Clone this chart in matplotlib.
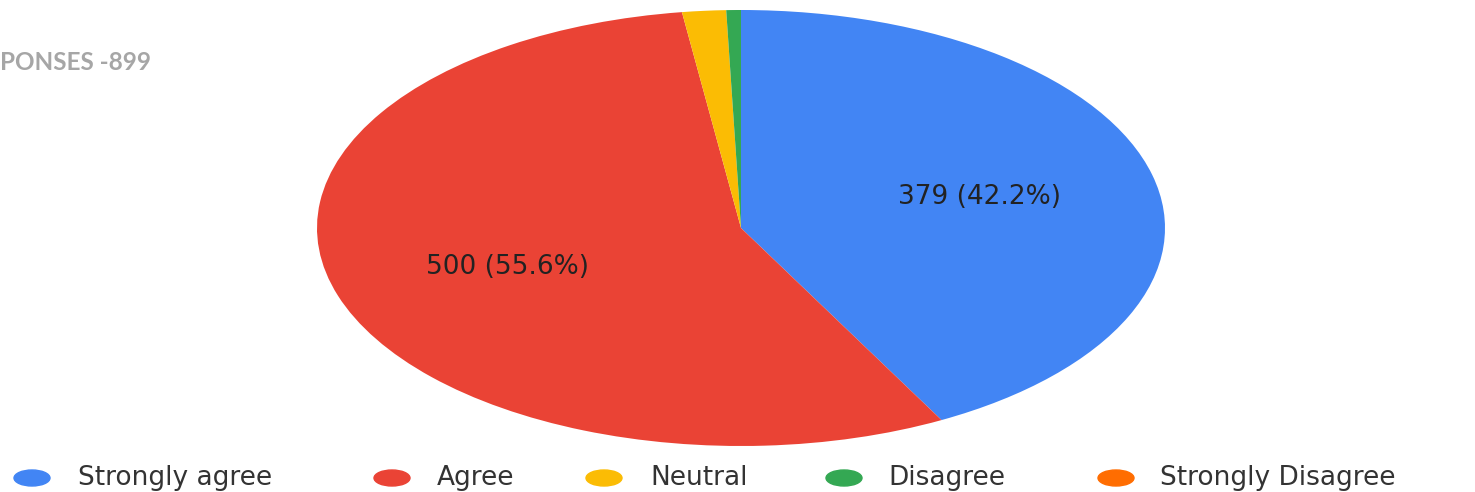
import matplotlib
matplotlib.use("Agg")
import matplotlib.pyplot as plt
from matplotlib.patches import Ellipse

categories = ["Strongly agree", "Agree", "Neutral", "Disagree", "Strongly Disagree"]
counts = [379, 500, 15, 5, 0]
colors = ["#4285F4", "#EA4335", "#FBBC04", "#34A853", "#FF6D01"]
title_text = "PONSES -899"

total = sum(counts)

W, H = 1475, 492
fig = plt.figure(figsize=(W / 100, H / 100), dpi=100)
fig.patch.set_facecolor("white")

# pie axes (elliptical, stretched like the reference)
cx, cy, a, b = 741, 228, 424, 218
ax = fig.add_axes([(cx - a) / W, 1 - (cy + b) / H, 2 * a / W, 2 * b / H])


def fmt(p):
    if p < 5:
        return ""
    return f"{round(p * total / 100)} ({p:.1f}%)"


wedges, texts, autotexts = ax.pie(
    counts, colors=colors, startangle=90, counterclock=False,
    autopct=fmt, pctdistance=0.58,
    wedgeprops=dict(linewidth=0),
    textprops=dict(fontsize=19, color="#222222", family="DejaVu Sans"),
)
ax.set_aspect("auto")
ax.set_xlim(-1, 1)
ax.set_ylim(-1, 1)
ax.axis("off")

# title fragment (cropped in reference)
fig.text(0, 1 - 62 / H, title_text, ha="left", va="center",
         fontsize=17.5, fontweight="bold", color="#a6a6a6", family="Lato")

# legend
marker_x = [32, 392, 604, 844, 1116]
text_x = [78, 437, 650, 888, 1160]
ly = 1 - 478 / H
for cat, col, mx, tx in zip(categories, colors, marker_x, text_x):
    fig.patches.append(Ellipse((mx / W, ly), 36 / W, 16 / H, color=col,
                               transform=fig.transFigure, figure=fig))
    fig.text(tx / W, ly, cat, ha="left", va="center", fontsize=19,
             color="#333333", family="DejaVu Sans")

fig.savefig("out.png", dpi=100, facecolor="white")
